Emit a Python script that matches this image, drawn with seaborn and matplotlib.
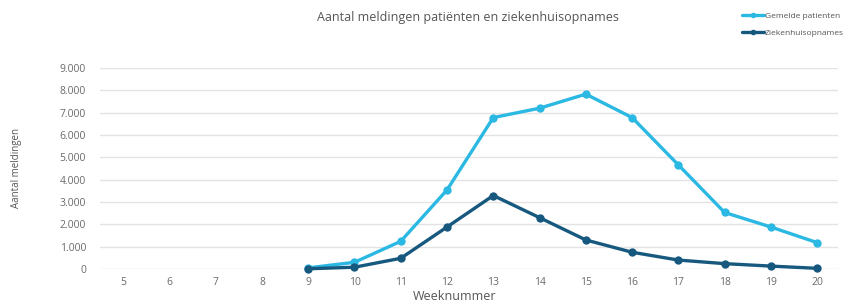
import matplotlib
matplotlib.use("Agg")
import matplotlib.pyplot as plt
import seaborn as sns
import pandas as pd

weeks = [9, 10, 11, 12, 13, 14, 15, 16, 17, 18, 19, 20]
gemelde = [50, 300, 1240, 3540, 6780, 7200, 7830, 6780, 4660, 2530, 1880, 1180]
zieken = [10, 80, 480, 1880, 3290, 2300, 1300, 750, 400, 240, 130, 30]
xticks = list(range(5, 21))
yticks = list(range(0, 9001, 1000))
ytick_labels = ["0" if v == 0 else f"{v:,}".replace(",", ".") for v in yticks]

df = pd.DataFrame({
    "week": weeks * 2,
    "value": gemelde + zieken,
    "serie": ["Gemelde patienten"] * len(weeks) + ["Ziekenhuisopnames"] * len(weeks),
})

sns.set_theme(style="white")
plt.rcParams["font.family"] = ["Open Sans", "DejaVu Sans"]

fig = plt.figure(figsize=(8.43, 3.06), dpi=100)
ax = fig.add_axes([100 / 843, (306 - 269) / 306, (838 - 100) / 843, (269 - 68) / 306])

palette = {"Gemelde patienten": "#2bb8e3", "Ziekenhuisopnames": "#17587f"}
sns.lineplot(data=df, x="week", y="value", hue="serie", palette=palette,
             marker="o", markersize=6, markeredgewidth=0, linewidth=2.4,
             ax=ax, clip_on=False, legend=False)

ax.set_xlim(4.5, 20.45)
ax.set_ylim(0, 9000)
ax.set_xticks(xticks)
ax.set_xticklabels([str(x) for x in xticks])
ax.set_yticks(yticks)
ax.set_yticklabels(ytick_labels)
ax.tick_params(axis="both", length=0, labelsize=7.5, colors="#6a6a6a")
ax.tick_params(axis="x", pad=6)
ax.tick_params(axis="y", pad=10)
ax.grid(axis="y", color="#e3e3e3", linewidth=1)
ax.set_axisbelow(True)
for s in ax.spines.values():
    s.set_visible(False)

ax.set_xlabel("")
fig.text(455 / 843, 1 - 297 / 306, "Weeknummer", ha="center", va="center",
         fontsize=9, color="#555555")
ax.set_ylabel("Aantal meldingen", fontsize=7, color="#555555")
ax.yaxis.set_label_coords(-(100 - 22) / 738, 0.5)

fig.text(468 / 843, 1 - 18 / 306, "Aantal meldingen patiënten en ziekenhuisopnames",
         ha="center", va="center", fontsize=9, color="#555555")

from matplotlib.lines import Line2D
handles = [Line2D([], [], color=palette[k], marker="o", markersize=4, markeredgewidth=0, linewidth=2.4)
           for k in ["Gemelde patienten", "Ziekenhuisopnames"]]
fig.legend(handles, ["Gemelde patienten", "Ziekenhuisopnames"], loc="upper left",
           bbox_to_anchor=(742 / 843, 1 - 12 / 306), frameon=False, fontsize=6,
           handlelength=2.6, handletextpad=0.15, labelspacing=1.15, labelcolor="#555555",
           borderaxespad=0, borderpad=0)

fig.savefig("out.png", dpi=100)
